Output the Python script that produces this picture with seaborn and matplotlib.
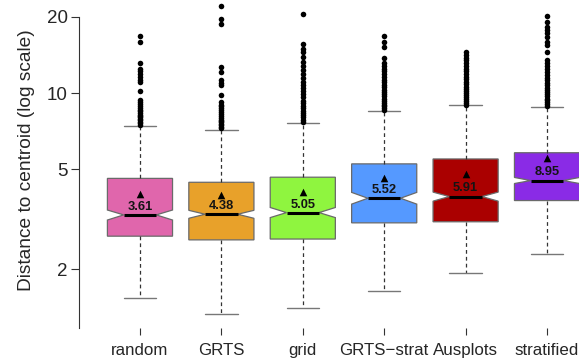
import matplotlib
matplotlib.use("Agg")
import matplotlib.pyplot as plt
import seaborn as sns
import pandas as pd

# ---- data -------------------------------------------------------------
designs = ["random", "GRTS", "grid", "GRTS\u2212strat", "Ausplots", "stratified"]
colors = ["#E066AC", "#E8A12A", "#8FF53F", "#5599FF", "#AA0000", "#8A2BE6"]

medians = [3.29, 3.31, 3.36, 3.83, 3.89, 4.50]
q1 = [2.71, 2.62, 2.64, 3.06, 3.09, 3.75]
q3 = [4.59, 4.43, 4.64, 5.24, 5.48, 5.80]
whisk_lo = [1.54, 1.33, 1.41, 1.65, 1.94, 2.30]
whisk_hi = [7.42, 7.14, 7.59, 8.48, 8.94, 8.83]
notch_lo = [3.14, 3.19, 3.21, 3.63, 3.73, 4.38]
notch_hi = [3.44, 3.43, 3.52, 4.04, 4.05, 4.63]
means = [3.97, 3.94, 4.07, 4.60, 4.76, 5.51]
box_labels = ["3.61", "4.38", "5.05", "5.52", "5.91", "8.95"]

outliers_random = [7.5, 7.6, 7.7, 7.8, 7.9, 8.0, 8.1, 8.2, 8.3, 8.45, 8.6,
                   8.75, 8.9, 9.05, 9.2, 9.4, 10.15, 11.05, 11.3, 11.6,
                   11.9, 12.2, 12.45, 13.1, 15.97, 16.8]
outliers_grts = [7.25, 7.35, 7.45, 7.55, 7.65, 7.75, 7.85, 7.95, 8.1, 8.25,
                 8.4, 8.55, 8.7, 8.85, 9.0, 9.24, 9.82, 10.76, 11.0, 11.26,
                 12.1, 12.7, 18.8, 19.6, 22.1]
outliers_grid = [7.7, 7.85, 8.0, 8.15, 8.3, 8.5, 8.7, 8.9, 9.1, 9.3, 9.6,
                 9.9, 10.2, 10.5, 10.8, 11.1, 11.5, 11.9, 12.3, 12.8, 13.3,
                 13.9, 14.5, 15.0, 15.7, 20.5]
outliers_grts_strat = [8.55, 8.7, 8.85, 9.0, 9.15, 9.3, 9.5, 9.7, 9.9, 10.1,
                       10.3, 10.55, 10.8, 11.05, 11.3, 11.6, 11.9, 12.2,
                       12.5, 12.8, 13.15, 13.73, 15.25, 15.97, 16.86]
outliers_ausplots = [9.0, 9.15, 9.3, 9.45, 9.6, 9.8, 10.0, 10.2, 10.4, 10.6,
                     10.85, 11.1, 11.35, 11.6, 11.9, 12.2, 12.5, 12.8, 13.1,
                     13.45, 13.8, 14.2, 14.6]
outliers_stratified = [8.9, 9.05, 9.2, 9.35, 9.5, 9.7, 9.9, 10.1, 10.3, 10.5,
                       10.75, 11.0, 11.25, 11.5, 11.8, 12.1, 12.4, 12.8, 13.1,
                       13.5, 14.6, 15.5, 15.97, 16.63, 17.24, 17.76, 18.3,
                       19.16, 20.2]
outliers = [outliers_random, outliers_grts, outliers_grid,
            outliers_grts_strat, outliers_ausplots, outliers_stratified]

y_ticks = [2, 5, 10, 20]

# ---- figure -----------------------------------------------------------
sns.set_style("ticks")
plt.rcParams["font.family"] = ["Liberation Sans", "DejaVu Sans"]

fig = plt.figure(figsize=(5.79, 3.60), dpi=100)
ax = fig.add_axes([79 / 579, 1 - 328 / 360, 1 - 79 / 579, (328 - 2) / 360])

positions = list(range(len(designs)))
stats = []
for i in positions:
    stats.append(dict(med=medians[i], q1=q1[i], q3=q3[i],
                      whislo=whisk_lo[i], whishi=whisk_hi[i],
                      cilo=notch_lo[i], cihi=notch_hi[i], fliers=[]))

bp = ax.bxp(stats, positions=positions, widths=0.8, shownotches=True,
            patch_artist=True, showfliers=False,
            boxprops=dict(edgecolor="#6a6a6a", linewidth=0.9),
            medianprops=dict(color="black", linewidth=2.2, solid_capstyle="butt"),
            whiskerprops=dict(color="#333333", linewidth=0.9, linestyle=(0, (3, 2.5))),
            capprops=dict(color="#777777", linewidth=1.0),
            capwidths=0.4)
for patch, c in zip(bp["boxes"], colors):
    patch.set_facecolor(c)

# outlying points
flier_df = pd.DataFrame({
    "pos": [i for i, vals in enumerate(outliers) for _ in vals],
    "dist": [v for vals in outliers for v in vals],
})
sns.scatterplot(data=flier_df, x="pos", y="dist", ax=ax, color="black",
                s=16, linewidth=0, zorder=3, legend=False)

# group means
mean_df = pd.DataFrame({"pos": positions, "mean": means})
sns.scatterplot(data=mean_df, x="pos", y="mean", ax=ax, marker="^",
                color="black", s=30, linewidth=0, zorder=4, legend=False)

for i, lab in enumerate(box_labels):
    ax.annotate(lab, xy=(i, medians[i]), xytext=(0, 1.5),
                textcoords="offset points", ha="center", va="bottom",
                fontsize=9.3, fontweight="bold", color="#141414", zorder=5)

ax.set_yscale("log")
ax.set_ylim(1.173, 22.93)
ax.set_xlim(-0.749, 5.393)
ax.set_yticks(y_ticks)
ax.set_yticklabels([str(t) for t in y_ticks])
ax.yaxis.set_minor_locator(matplotlib.ticker.NullLocator())
ax.set_xticks(positions)
ax.set_xticklabels(designs)

ax.tick_params(axis="y", length=5.5, width=0.8, pad=2.5, labelsize=13.5,
               color="#333333")
ax.tick_params(axis="x", length=5, width=0.8, pad=6, labelsize=12.2,
               color="#333333")

for side in ["top", "right", "bottom"]:
    ax.spines[side].set_visible(False)
ax.spines["left"].set_bounds(1.173, 20)
ax.spines["left"].set_color("#333333")
ax.spines["left"].set_linewidth(0.8)

ax.set_xlabel("")
ax.set_ylabel("Distance to centroid (log scale)", fontsize=13.8)
ax.yaxis.set_label_coords(-0.104, 1 - (160 - 2) / 326)
ax.yaxis.label.set_va("center")

fig.savefig("out.png", dpi=100)
